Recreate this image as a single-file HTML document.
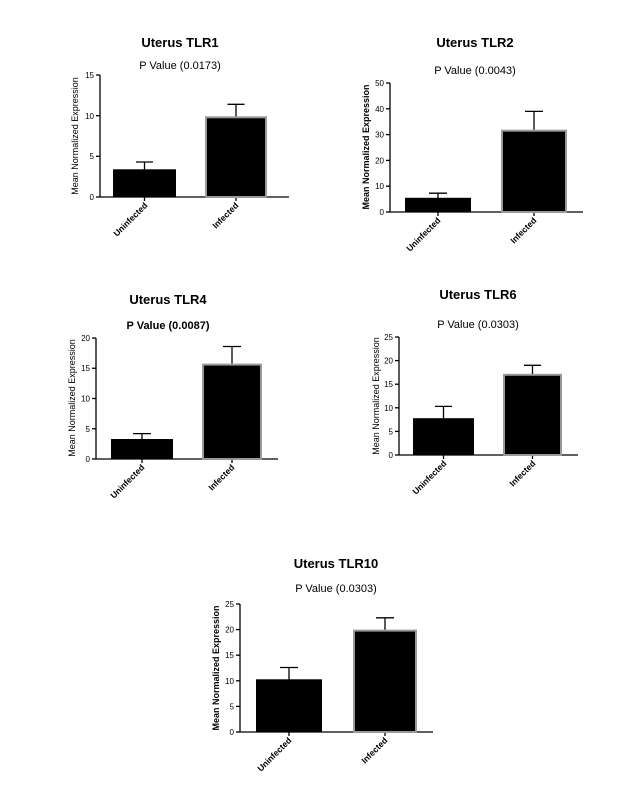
<!DOCTYPE html>
<html><head><meta charset="utf-8"><style>
body{margin:0;background:#fff}
svg{display:block;font-family:"Liberation Sans",Arial,sans-serif}
.t{font-size:13px;font-weight:bold;text-anchor:middle}
.p{font-size:11px;text-anchor:middle}
.k{font-size:8px;text-anchor:end}
.c{font-size:8.5px;text-anchor:end;font-weight:bold}
.yl{font-size:9px;text-anchor:middle}
.b{font-weight:bold}
line{stroke:#000;stroke-width:1.3}
.ib{fill:#000;stroke:#999;stroke-width:2}
</style></head><body>
<svg width="631" height="794" viewBox="0 0 631 794">
<!-- TLR1 -->
<text class="t" x="180" y="47">Uterus TLR1</text>
<text class="p" x="180" y="69">P Value (0.0173)</text>
<text class="yl" transform="translate(78,136) rotate(-90)">Mean Normalized Expression</text>
<line x1="100" y1="75" x2="100" y2="197"/><line x1="100" y1="197" x2="289" y2="197"/>
<line x1="96" y1="75" x2="100" y2="75"/><line x1="96" y1="115.7" x2="100" y2="115.7"/><line x1="96" y1="156.3" x2="100" y2="156.3"/><line x1="96" y1="197" x2="100" y2="197"/>
<text class="k" x="94" y="78">15</text><text class="k" x="94" y="119">10</text><text class="k" x="94" y="159">5</text><text class="k" x="94" y="200">0</text>
<line x1="144.5" y1="197" x2="144.5" y2="201"/><line x1="236" y1="197" x2="236" y2="201"/>
<line x1="144.5" y1="162" x2="144.5" y2="170"/><line x1="136" y1="162" x2="153" y2="162"/>
<rect x="113" y="169.3" width="63" height="27.7" fill="#000"/>
<line x1="236" y1="104.3" x2="236" y2="118"/><line x1="227.5" y1="104.3" x2="244.5" y2="104.3"/>
<rect class="ib" x="206" y="117.3" width="60" height="79.7"/>
<text class="c" transform="translate(148,206) rotate(-45)">Uninfected</text>
<text class="c" transform="translate(239,206) rotate(-45)">Infected</text>

<!-- TLR2 -->
<text class="t" x="475" y="47">Uterus TLR2</text>
<text class="p" x="475" y="74">P Value (0.0043)</text>
<text class="yl b" transform="translate(369,147) rotate(-90)">Mean Normalized Expression</text>
<line x1="390" y1="83" x2="390" y2="212"/><line x1="390" y1="212" x2="583" y2="212"/>
<line x1="386" y1="83" x2="390" y2="83"/><line x1="386" y1="108.8" x2="390" y2="108.8"/><line x1="386" y1="134.6" x2="390" y2="134.6"/><line x1="386" y1="160.4" x2="390" y2="160.4"/><line x1="386" y1="186.2" x2="390" y2="186.2"/><line x1="386" y1="212" x2="390" y2="212"/>
<text class="k" x="384" y="86">50</text><text class="k" x="384" y="112">40</text><text class="k" x="384" y="137.6">30</text><text class="k" x="384" y="163.4">20</text><text class="k" x="384" y="189.2">10</text><text class="k" x="384" y="215">0</text>
<line x1="438" y1="212" x2="438" y2="216"/><line x1="534" y1="212" x2="534" y2="216"/>
<line x1="438" y1="193.2" x2="438" y2="198"/><line x1="429" y1="193.2" x2="447" y2="193.2"/>
<rect x="405" y="197.8" width="66" height="14.2" fill="#000"/>
<line x1="534" y1="111.4" x2="534" y2="131"/><line x1="525" y1="111.4" x2="543" y2="111.4"/>
<rect class="ib" x="502" y="130.7" width="64" height="81.3"/>
<text class="c" transform="translate(441,221) rotate(-45)">Uninfected</text>
<text class="c" transform="translate(537,221) rotate(-45)">Infected</text>

<!-- TLR4 -->
<text class="t" x="168" y="304">Uterus TLR4</text>
<text class="p b" x="168" y="329">P Value (0.0087)</text>
<text class="yl" transform="translate(75,398) rotate(-90)">Mean Normalized Expression</text>
<line x1="96" y1="338" x2="96" y2="459"/><line x1="96" y1="459" x2="278" y2="459"/>
<line x1="92" y1="338" x2="96" y2="338"/><line x1="92" y1="368.25" x2="96" y2="368.25"/><line x1="92" y1="398.5" x2="96" y2="398.5"/><line x1="92" y1="428.75" x2="96" y2="428.75"/><line x1="92" y1="459" x2="96" y2="459"/>
<text class="k" x="90" y="341">20</text><text class="k" x="90" y="371">15</text><text class="k" x="90" y="401.5">10</text><text class="k" x="90" y="432">5</text><text class="k" x="90" y="462">0</text>
<line x1="142" y1="459" x2="142" y2="463"/><line x1="232" y1="459" x2="232" y2="463"/>
<line x1="142" y1="433.6" x2="142" y2="440"/><line x1="133" y1="433.6" x2="151" y2="433.6"/>
<rect x="111" y="439" width="62" height="20" fill="#000"/>
<line x1="232" y1="346.5" x2="232" y2="365"/><line x1="223" y1="346.5" x2="241" y2="346.5"/>
<rect class="ib" x="203" y="364.6" width="58" height="94.4"/>
<text class="c" transform="translate(145,468) rotate(-45)">Uninfected</text>
<text class="c" transform="translate(235,468) rotate(-45)">Infected</text>

<!-- TLR6 -->
<text class="t" x="478" y="299">Uterus TLR6</text>
<text class="p" x="478" y="328">P Value (0.0303)</text>
<text class="yl" transform="translate(379,396) rotate(-90)">Mean Normalized Expression</text>
<line x1="399" y1="337" x2="399" y2="455"/><line x1="399" y1="455" x2="578" y2="455"/>
<line x1="395" y1="337" x2="399" y2="337"/><line x1="395" y1="360.6" x2="399" y2="360.6"/><line x1="395" y1="384.2" x2="399" y2="384.2"/><line x1="395" y1="407.8" x2="399" y2="407.8"/><line x1="395" y1="431.4" x2="399" y2="431.4"/><line x1="395" y1="455" x2="399" y2="455"/>
<text class="k" x="393" y="340">25</text><text class="k" x="393" y="363.6">20</text><text class="k" x="393" y="387.2">15</text><text class="k" x="393" y="410.8">10</text><text class="k" x="393" y="434.4">5</text><text class="k" x="393" y="458">0</text>
<line x1="443.5" y1="455" x2="443.5" y2="459"/><line x1="532.5" y1="455" x2="532.5" y2="459"/>
<line x1="443.5" y1="406.4" x2="443.5" y2="419"/><line x1="435" y1="406.4" x2="452" y2="406.4"/>
<rect x="413" y="418.2" width="61" height="36.8" fill="#000"/>
<line x1="532.5" y1="365.3" x2="532.5" y2="375"/><line x1="524" y1="365.3" x2="541" y2="365.3"/>
<rect class="ib" x="504" y="374.8" width="57" height="80.2"/>
<text class="c" transform="translate(447,464) rotate(-45)">Uninfected</text>
<text class="c" transform="translate(536,464) rotate(-45)">Infected</text>

<!-- TLR10 -->
<text class="t" x="336" y="568">Uterus TLR10</text>
<text class="p" x="336" y="592">P Value (0.0303)</text>
<text class="yl b" transform="translate(219,668) rotate(-90)">Mean Normalized Expression</text>
<line x1="240" y1="604" x2="240" y2="732"/><line x1="240" y1="732" x2="433" y2="732"/>
<line x1="236" y1="604" x2="240" y2="604"/><line x1="236" y1="629.6" x2="240" y2="629.6"/><line x1="236" y1="655.2" x2="240" y2="655.2"/><line x1="236" y1="680.8" x2="240" y2="680.8"/><line x1="236" y1="706.4" x2="240" y2="706.4"/><line x1="236" y1="732" x2="240" y2="732"/>
<text class="k" x="234" y="607">25</text><text class="k" x="234" y="632.6">20</text><text class="k" x="234" y="658.2">15</text><text class="k" x="234" y="683.8">10</text><text class="k" x="234" y="709.4">5</text><text class="k" x="234" y="735">0</text>
<line x1="289" y1="732" x2="289" y2="736"/><line x1="385" y1="732" x2="385" y2="736"/>
<line x1="289" y1="667.5" x2="289" y2="680"/><line x1="280" y1="667.5" x2="298" y2="667.5"/>
<rect x="256" y="679.3" width="66" height="52.7" fill="#000"/>
<line x1="385" y1="617.8" x2="385" y2="631"/><line x1="376" y1="617.8" x2="394" y2="617.8"/>
<rect class="ib" x="354" y="630.6" width="62" height="101.4"/>
<text class="c" transform="translate(292,741) rotate(-45)">Uninfected</text>
<text class="c" transform="translate(388,741) rotate(-45)">Infected</text>
</svg>
</body></html>
